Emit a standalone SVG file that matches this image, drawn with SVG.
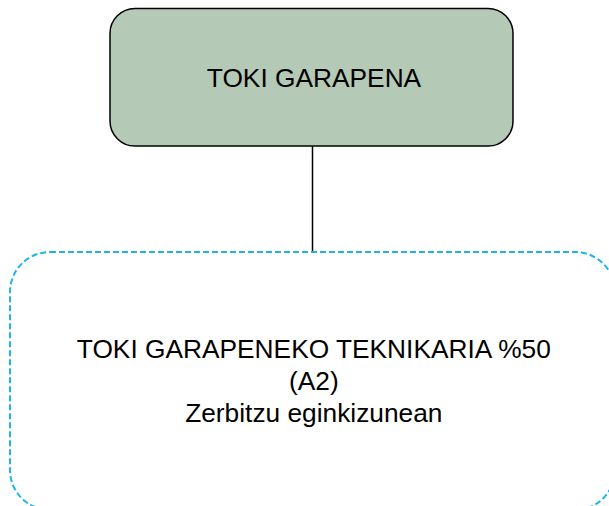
<svg xmlns="http://www.w3.org/2000/svg" width="609" height="506" viewBox="0 0 609 506">
  <style>
    .lbl { font-family: "Liberation Sans", Arial, sans-serif; font-size: 26.3px; fill: #000000; text-anchor: middle; }
    .top { fill: #b4cab6; stroke: #000000; stroke-width: 1.5; }
    .sub { fill: #ffffff; stroke: #1cb4ea; stroke-width: 2; stroke-dasharray: 6 3; }
    .conn { stroke: #000000; stroke-width: 1.5; fill: none; }
  </style>
  <rect width="609" height="506" fill="#ffffff"/>
  <g id="connectors">
    <line class="conn" x1="312.5" y1="146" x2="312.5" y2="252"/>
  </g>
  <g id="node-toki-garapena">
    <rect class="top" x="110" y="8.5" width="403" height="137.5" rx="25" ry="25"/>
    <text class="lbl" x="314" y="86.7">TOKI GARAPENA</text>
  </g>
  <g id="node-teknikaria">
    <rect class="sub" x="10" y="252" width="605" height="258" rx="40" ry="40"/>
    <text class="lbl" x="313.8" y="358.3">TOKI GARAPENEKO TEKNIKARIA %50</text>
    <text class="lbl" x="313.8" y="390.3">(A2)</text>
    <text class="lbl" x="313.8" y="422.3">Zerbitzu eginkizunean</text>
  </g>
</svg>
